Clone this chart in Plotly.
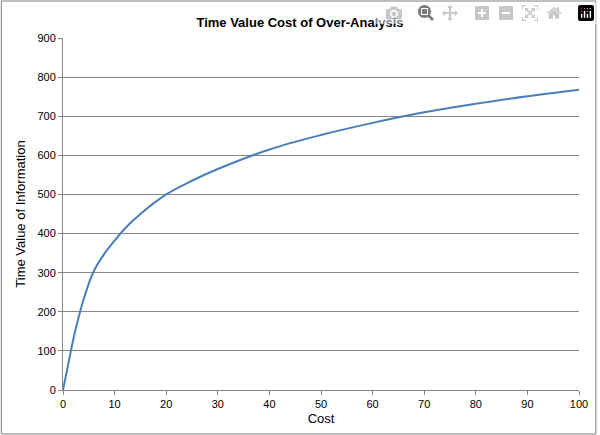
import plotly.graph_objects as go

cost = [0, 1, 2, 3, 4, 5, 6, 8, 10, 12, 15, 20, 25, 30, 40, 50, 60, 70, 80, 90, 100]
value = [0, 65, 130, 185, 232, 272, 305, 348, 382, 413, 450, 500, 535, 565, 615, 652, 683, 710, 732, 751, 768]

fig = go.Figure()
fig.add_trace(go.Scatter(x=cost, y=value, mode="lines",
                         line=dict(color="#4a7ebb", width=2, shape="spline")))

pw, ph = 519, 352
fig.add_shape(type="rect", xref="paper", yref="paper",
              x0=-62 / pw, x1=1 + 17 / pw, y0=-44 / ph, y1=1 + 37 / ph,
              line=dict(color="#7f7f7f", width=1))

fig.update_layout(
    width=600, height=435,
    margin=dict(l=63, r=18, t=38, b=45),
    paper_bgcolor="white", plot_bgcolor="white",
    font=dict(family="Liberation Sans", size=11, color="black"),
    title=dict(text="<b>Time Value Cost of Over-Analysis</b>", x=0.5, y=0.96,
               xanchor="center", font=dict(size=13)),
    showlegend=False,
    xaxis=dict(range=[0, 100], dtick=10, showgrid=False, showline=True,
               linecolor="#868686", ticks="outside", ticklen=4, tickcolor="#868686",
               title=dict(text="Cost", standoff=4), zeroline=False),
    yaxis=dict(range=[0, 900], dtick=100, showgrid=True, gridcolor="#868686",
               gridwidth=1, showline=True, linecolor="#868686", ticks="outside",
               ticklen=4, tickcolor="#868686",
               title=dict(text="Time Value of Information", standoff=8), zeroline=False),
)
fig.write_html("out.html", post_script="document.body.style.margin='0';")
